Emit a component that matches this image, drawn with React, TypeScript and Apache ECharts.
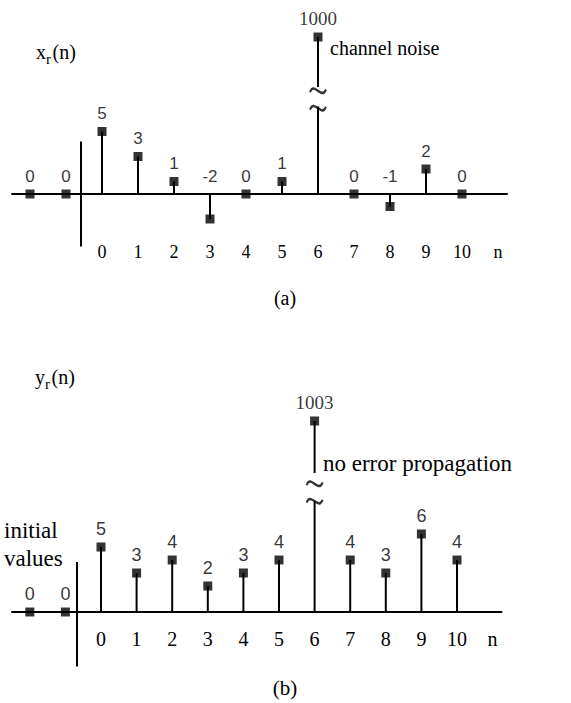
import React, { useEffect, useRef } from 'react';
import * as echarts from 'echarts';

// ---- data ----
const nValues = [-2, -1, 0, 1, 2, 3, 4, 5, 6, 7, 8, 9, 10];
const xrValues = [0, 0, 5, 3, 1, -2, 0, 1, 1000, 0, -1, 2, 0];
const yrValues = [0, 0, 5, 3, 4, 2, 3, 4, 1003, 4, 3, 6, 4];
const tickPositions = [0, 1, 2, 3, 4, 5, 6, 7, 8, 9, 10, 11];
const tickLabels = ['0', '1', '2', '3', '4', '5', '6', '7', '8', '9', '10', 'n'];

const SERIF = '"Liberation Serif", "Times New Roman", serif';
const SANS = '"Liberation Sans", Arial, sans-serif';
const BREAK_SYMBOL = 'path://M0,8 C3,0 9,14 12,6 M0,20 C3,12 9,26 12,18';

const panels = [
  {
    values: xrValues,
    left: 12,
    width: 495,
    upper: { top: 12, height: 75, min: 996, max: 1002 },
    lower: { top: 106.5, height: 143.75, min: -4.5, max: 7 },
    labelMargin: -7,
    tickFont: 18,
    valueFont: 17,
    bigFont: 19,
    breakOffset: -7,
    vAxis: { x: -0.58, from: -4.2, to: 4.2 },
  },
  {
    values: yrValues,
    left: 12,
    width: 489.5,
    upper: { top: 395, height: 78, min: 999, max: 1005 },
    lower: { top: 501.5, height: 169, min: -4.5, max: 8.5 },
    labelMargin: -42,
    tickFont: 20,
    valueFont: 18,
    bigFont: 19,
    breakOffset: -9,
    vAxis: { x: -0.67, from: -4.2, to: 3.85 },
  },
];

function tickFormatter(v: number) {
  for (let i = 0; i < tickPositions.length; i++) {
    if (Math.abs(tickPositions[i] - v) < 1e-6) return tickLabels[i];
  }
  return '';
}

function buildOption() {
  const grid: any[] = [];
  const xAxis: any[] = [];
  const yAxis: any[] = [];
  const series: any[] = [];

  panels.forEach((p) => {
    const gU = grid.length;
    grid.push({ left: p.left, width: p.width, top: p.upper.top, height: p.upper.height });
    const gL = grid.length;
    grid.push({ left: p.left, width: p.width, top: p.lower.top, height: p.lower.height });

    xAxis.push({
      type: 'value', gridIndex: gU, min: -2.5, max: 11.25, interval: 0.25, show: false,
    });
    xAxis.push({
      type: 'value', gridIndex: gL, min: -2.5, max: 11.25, interval: 0.25,
      axisLine: { onZero: true, lineStyle: { color: '#000', width: 2 } },
      axisTick: { show: false },
      splitLine: { show: false },
      axisLabel: {
        margin: p.labelMargin,
        formatter: tickFormatter,
        fontFamily: SERIF,
        fontSize: p.tickFont,
        color: '#000',
        interval: 0,
      },
    });
    yAxis.push({ type: 'value', gridIndex: gU, min: p.upper.min, max: p.upper.max, show: false });
    yAxis.push({ type: 'value', gridIndex: gL, min: p.lower.min, max: p.lower.max, show: false });

    const pts = nValues.map((n, i) => [n, p.values[i]]);
    const isBig = (v: number) => v > p.lower.max;
    const small = pts.filter((d) => !isBig(d[1]));
    const big = pts.filter((d) => isBig(d[1]));

    // stems
    series.push({
      type: 'bar', xAxisIndex: gL, yAxisIndex: gL, barWidth: 2, clip: true, silent: true,
      itemStyle: { color: '#000' }, data: pts,
    });
    series.push({
      type: 'bar', xAxisIndex: gU, yAxisIndex: gU, barWidth: 2, clip: true, silent: true,
      itemStyle: { color: '#000' }, data: big,
    });
    // markers
    series.push({
      type: 'scatter', xAxisIndex: gL, yAxisIndex: gL, symbol: 'rect', symbolSize: 9, silent: true,
      itemStyle: { color: '#000' }, data: small, z: 4,
      markLine: {
        silent: true, symbol: ['none', 'none'], label: { show: false },
        lineStyle: { color: '#000', width: 2, type: 'solid' },
        data: [[{ coord: [p.vAxis.x, p.vAxis.from] }, { coord: [p.vAxis.x, p.vAxis.to] }]],
      },
    });
    series.push({
      type: 'scatter', xAxisIndex: gU, yAxisIndex: gU, symbol: 'rect', symbolSize: 9, silent: true,
      itemStyle: { color: '#000' }, data: big, z: 4,
      label: { show: true, position: 'top', distance: 5, fontFamily: SERIF, fontSize: p.bigFont, color: '#000' },
    });
    // value labels (placed above the baseline for zero / negative values)
    series.push({
      type: 'scatter', xAxisIndex: gL, yAxisIndex: gL, symbol: 'rect', symbolSize: 9, silent: true,
      itemStyle: { color: 'rgba(0,0,0,0)' },
      data: small.map((d) => [d[0], Math.max(d[1], 0), d[1]]),
      label: {
        show: true, position: 'top', distance: 5,
        formatter: (prm: any) => String(prm.value[2]),
        fontFamily: SANS, fontSize: p.valueFont, color: '#000',
      },
      z: 5,
    });
    // axis break mark
    series.push({
      type: 'scatter', xAxisIndex: gL, yAxisIndex: gL, symbol: BREAK_SYMBOL, symbolSize: [16, 22],
      symbolOffset: [0, p.breakOffset], clip: false, silent: true,
      itemStyle: { color: 'rgba(0,0,0,0)', borderColor: '#000', borderWidth: 2.2 },
      data: big.map((d) => [d[0], p.lower.max]),
      z: 6,
    });
  });

  const txt = (text: string, x: number, y: number, fontSize: number, align = 'left') => ({
    type: 'text', x, y, silent: true,
    style: { text, fontSize, fontFamily: SERIF, fill: '#000', align, verticalAlign: 'middle' },
  });

  const subLabel = (main: string, x: number, y: number) => ({
    type: 'group', x, y, silent: true,
    children: [
      txt(main, 0, 0, 20),
      txt('r', 10, 7, 15),
      txt('(n)', 16.5, 0, 20),
    ],
  });

  const graphic = [
    subLabel('x', 36, 52),
    txt('channel noise', 330, 48, 20),
    txt('(a)', 285, 298, 20, 'center'),
    subLabel('y', 35, 377),
    txt('no error propagation', 323, 463, 23),
    txt('initial', 4, 530, 23),
    txt('values', 4, 558, 23),
    txt('(b)', 285, 688, 21, 'center'),
  ];

  return {
    animation: false,
    backgroundColor: '#fff',
    grid, xAxis, yAxis, series, graphic,
  };
}

export default function App() {
  const ref = useRef<HTMLDivElement>(null);
  useEffect(() => {
    if (!ref.current) return;
    const chart = echarts.init(ref.current, undefined, { renderer: 'svg' });
    chart.setOption(buildOption() as any);
    return () => chart.dispose();
  }, []);
  return (
    <div
      ref={ref}
      style={{ position: 'absolute', left: 0, top: 0, width: 571, height: 703, background: '#fff' }}
    />
  );
}
